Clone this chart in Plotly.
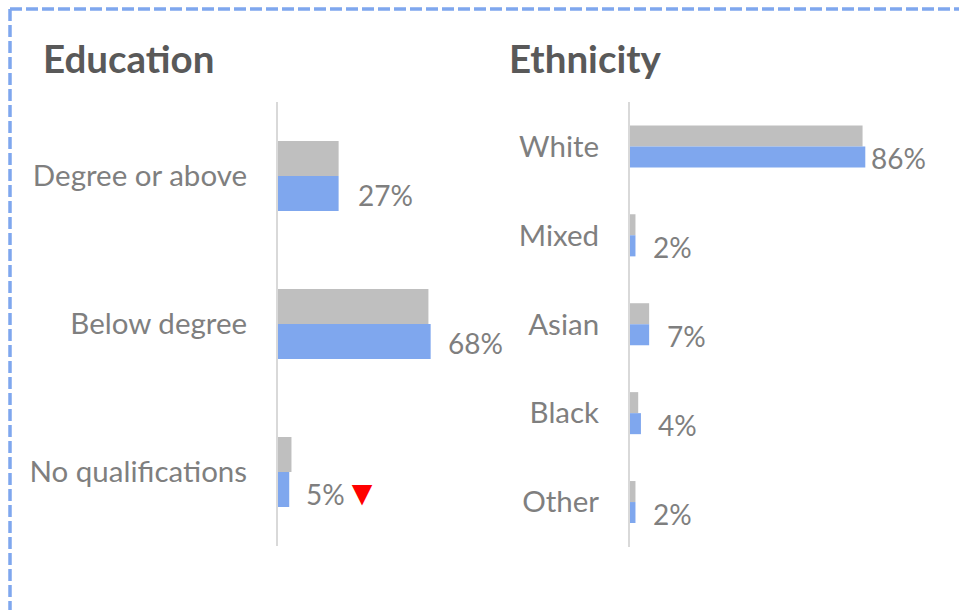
import plotly.graph_objects as go

# Canvas size in pixels
W, H = 959, 610

# Education breakdown (percent)
edu_categories = ["Degree or above", "Below degree", "No qualifications"]
edu_previous = [27, 67, 6]
edu_current = [27, 68, 5]
edu_change = ["", "", "down"]

# Ethnicity breakdown (percent)
eth_categories = ["White", "Mixed", "Asian", "Black", "Other"]
eth_previous = [85, 2, 7, 3, 2]
eth_current = [86, 2, 7, 4, 2]
eth_change = ["", "", "", "", ""]

GREY = "#BFBFBF"
BLUE = "#7FA7EE"
TEXT = "#7F7F7F"
TITLE = "#595959"
AXIS = "#D9D9D9"
FONT = "Lato"
BARGAP = 0.527


def px_x(x):
    return x / W


def px_y(y):
    return 1 - y / H


fig = go.Figure()

panels = [
    dict(cats=edu_categories, prev=edu_previous, cur=edu_current, change=edu_change,
         xa="x", ya="y", x0=278, x1=278 + 224.5, y0=102, y1=546,
         gaps=[17, 15, 15]),
    dict(cats=eth_categories, prev=eth_previous, cur=eth_current, change=eth_change,
         xa="x2", ya="y2", x0=630, x1=630 + 273.6, y0=102, y1=546.5,
         gaps=[4, 16, 16, 15, 16]),
]

annotations = []
for i, p in enumerate(panels):
    fig.add_trace(go.Bar(y=p["cats"], x=p["prev"], orientation="h", marker_color=GREY,
                         marker_line_width=0, xaxis=p["xa"], yaxis=p["ya"],
                         showlegend=False, hoverinfo="skip"))
    fig.add_trace(go.Bar(y=p["cats"], x=p["cur"], orientation="h", marker_color=BLUE,
                         marker_line_width=0, xaxis=p["xa"], yaxis=p["ya"],
                         showlegend=False, hoverinfo="skip"))
    band = (p["y1"] - p["y0"]) / len(p["cats"])
    bar_px = band * (1 - BARGAP) / 2
    suffix = "" if i == 0 else str(i + 1)
    fig.update_layout(**{
        "xaxis" + suffix: dict(domain=[px_x(p["x0"]), px_x(p["x1"])], range=[0, 100],
                               visible=False, fixedrange=True),
        "yaxis" + suffix: dict(domain=[px_y(p["y1"]), px_y(p["y0"])], type="category",
                               autorange="reversed", showline=True, linecolor=AXIS,
                               linewidth=2, ticks="", showgrid=False, zeroline=False,
                               ticklabelstandoff=23,
                               tickfont=dict(family=FONT, size=29.5, color=TEXT),
                               anchor=p["xa"]),
    })
    for cat, v, ch, gap in zip(p["cats"], p["cur"], p["change"], p["gaps"]):
        text = f"{v}%"
        if ch == "down":
            text += "<span style='color:#FF0000;font-size:35px'>▼</span>"
        annotations.append(dict(x=v, y=cat, xref=p["xa"], yref=p["ya"], text=text,
                                showarrow=False, xanchor="left", yanchor="middle",
                                xshift=gap, yshift=-bar_px / 2 - 1,
                                font=dict(family=FONT, size=28, color=TEXT)))

# Panel titles
for label, x in [("Education", 41), ("Ethnicity", 507)]:
    annotations.append(dict(x=px_x(x), y=px_y(58), xref="paper", yref="paper",
                            text=f"<b>{label}</b>", showarrow=False,
                            xanchor="left", yanchor="middle",
                            font=dict(family=FONT, size=38.5, color=TITLE)))

# Dashed frame along the top and left edges
frame = dict(color=BLUE, width=3.5, dash="12px,4px")
shapes = [
    dict(type="line", xref="paper", yref="paper", x0=px_x(10), x1=1.0,
         y0=px_y(9), y1=px_y(9), line=frame),
    dict(type="line", xref="paper", yref="paper", x0=px_x(10), x1=px_x(10),
         y0=px_y(9), y1=0.0, line=frame),
]

fig.update_layout(
    width=W, height=H, margin=dict(l=0, r=0, t=0, b=0),
    paper_bgcolor="white", plot_bgcolor="white",
    barmode="group", bargap=BARGAP, bargroupgap=0,
    annotations=annotations, shapes=shapes,
    font=dict(family=FONT, color=TEXT),
)

fig.write_html("out.html", config={"displayModeBar": False})
